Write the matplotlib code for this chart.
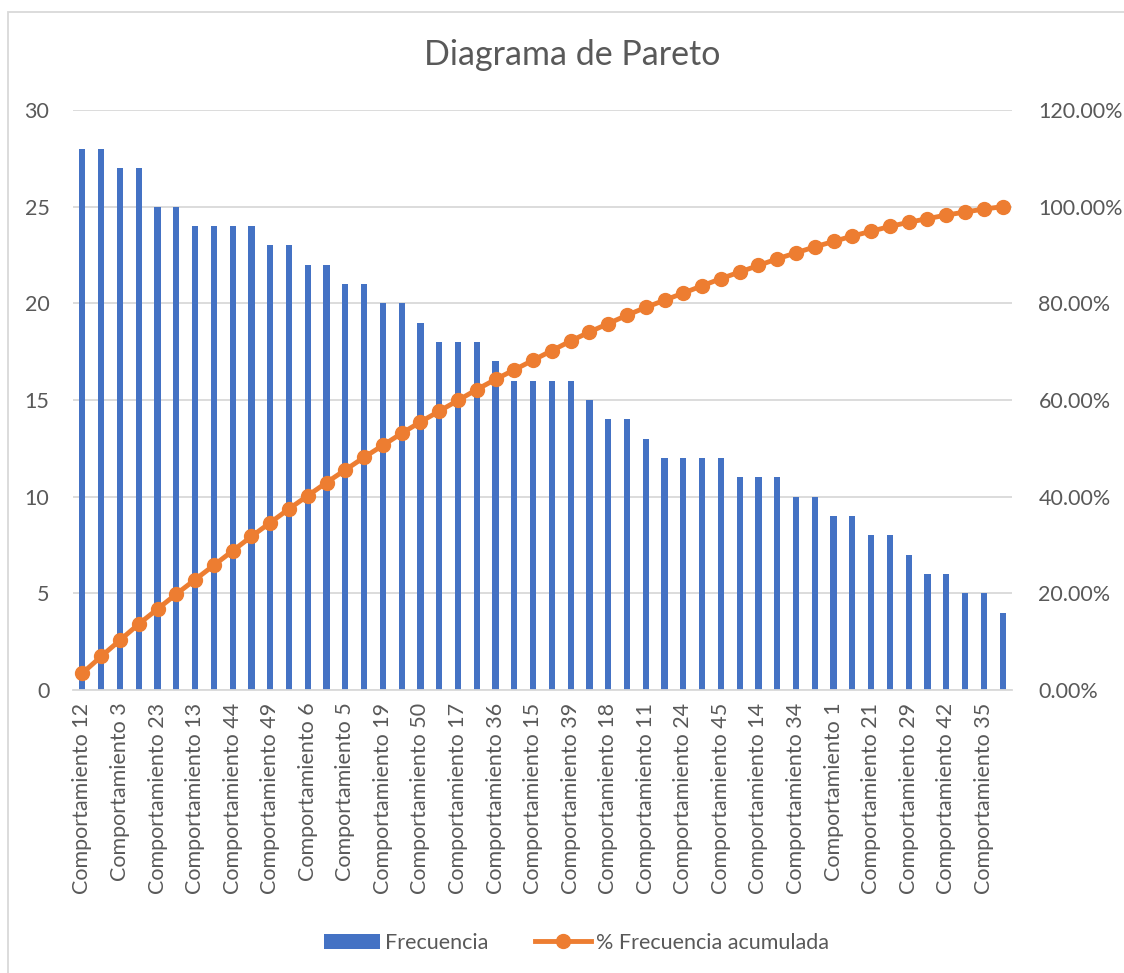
import matplotlib
matplotlib.use("Agg")
import matplotlib.pyplot as plt
import numpy as np
from matplotlib.patches import Rectangle
from matplotlib.ticker import FuncFormatter

plt.rcParams['font.family'] = ['Lato', 'DejaVu Sans']

# data (only every other category label is visible)
comportamiento = [12, 7, 3, 27, 23, 40, 13, 2, 44, 31, 49, 8, 6, 26, 5, 33, 19, 9,
                  50, 22, 17, 41, 36, 4, 15, 30, 39, 10, 18, 47, 11, 25, 24, 16,
                  45, 37, 14, 28, 34, 20, 1, 43, 21, 32, 29, 46, 42, 38, 35, 48]
frecuencia = [28, 28, 27, 27, 25, 25, 24, 24, 24, 24, 23, 23, 22, 22, 21, 21, 20, 20,
              19, 18, 18, 18, 17, 16, 16, 16, 16, 15, 14, 14, 13, 12, 12, 12, 12,
              11, 11, 11, 10, 10, 9, 9, 8, 8, 7, 6, 6, 5, 5, 4]

labels = [f"Comportamiento {n}" for n in comportamiento]
acumulada = np.cumsum(frecuencia) / np.sum(frecuencia)

blue = "#4472C4"
orange = "#ED7D31"
grey_txt = "#595959"
grid_c = "#D9D9D9"
fs = 15.5

fig = plt.figure(figsize=(11.24, 9.73), dpi=100)
ax = fig.add_axes([73 / 1124, 1 - 690 / 973, (1012 - 73) / 1124, (690 - 110) / 973])

x = np.arange(len(frecuencia))
ax.bar(x, frecuencia, width=0.33, color=blue, zorder=2, label="Frecuencia")
ax.set_xlim(-0.5, len(frecuencia) - 0.5)
ax.set_ylim(0, 30)
ax.set_yticks(range(0, 31, 5))
ax.yaxis.grid(True, color=grid_c, linewidth=1.3, zorder=0)
ax.set_axisbelow(True)
for s in ax.spines.values():
    s.set_visible(False)
ax.spines['bottom'].set_visible(True)
ax.spines['bottom'].set_color(grid_c)
ax.spines['bottom'].set_linewidth(1.3)
ax.tick_params(length=0, labelsize=fs, labelcolor=grey_txt, pad=17)
ax.tick_params(axis='x', pad=9)
ax.set_xticks(x[::2])
ax.set_xticklabels(labels[::2], rotation=90)

ax2 = ax.twinx()
ax2.plot(x, acumulada, color=orange, linewidth=3.5, marker='o', markersize=10,
         zorder=3, label="% Frecuencia acumulada")
ax2.set_ylim(0, 1.2)
ax2.set_yticks(np.arange(0, 1.21, 0.2))
ax2.yaxis.set_major_formatter(FuncFormatter(lambda v, p: f"{v * 100:.2f}%"))
for s in ax2.spines.values():
    s.set_visible(False)
ax2.tick_params(length=0, labelsize=fs, labelcolor=grey_txt, pad=19)

fig.text(0.509, 1 - 55 / 973, "Diagrama de Pareto", ha='center', va='center',
         fontsize=24.5, color=grey_txt)

h1, l1 = ax.get_legend_handles_labels()
h2, l2 = ax2.get_legend_handles_labels()
fig.legend(h1 + h2, l1 + l2, loc='center', bbox_to_anchor=(0.513, 1 - 943 / 973),
           ncol=2, frameon=False, fontsize=fs, labelcolor=grey_txt,
           handlelength=2.6, handletextpad=0.2, columnspacing=2.2)

# chart-area border, cut off at the right and bottom edges of the picture
fig.patches.append(Rectangle((8 / 1124, -0.05), 1.2, 1 - 12 / 973 + 0.05,
                             transform=fig.transFigure, fill=False,
                             edgecolor=grid_c, linewidth=1.3))

fig.savefig("out.png", dpi=100)
